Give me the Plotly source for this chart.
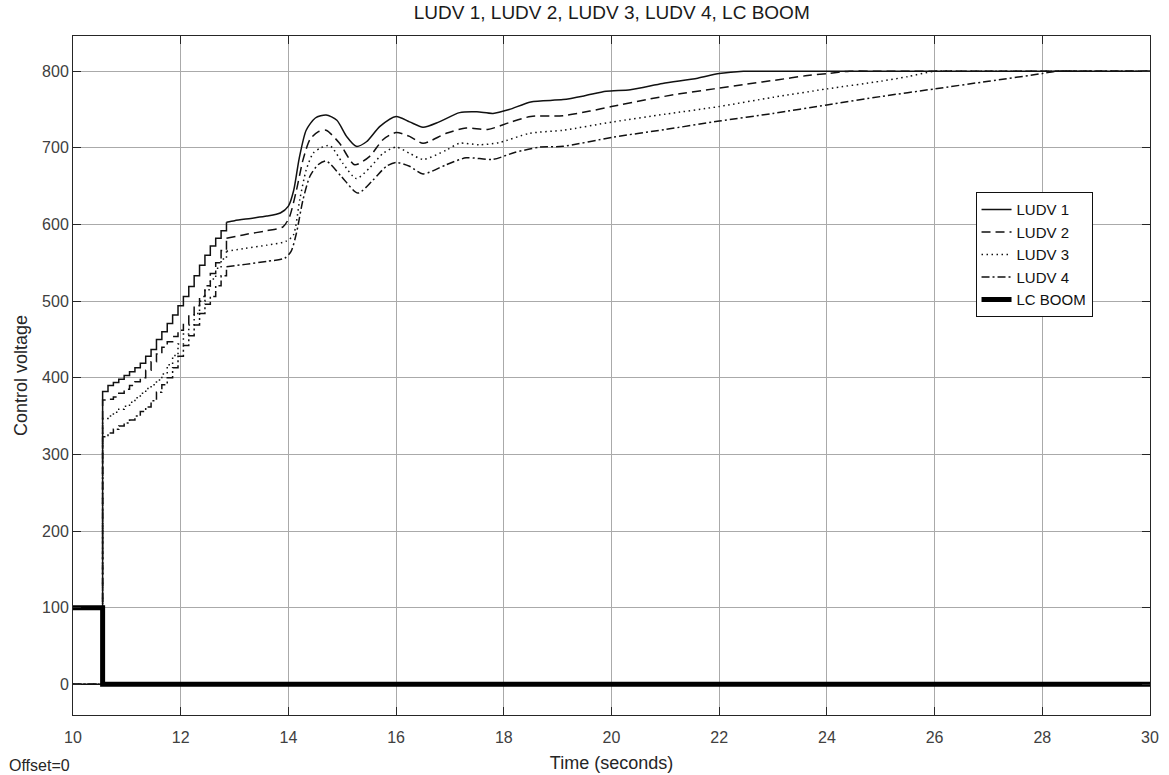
import plotly.graph_objects as go

# ---- data -------------------------------------------------------------
series_names = ["LUDV 1", "LUDV 2", "LUDV 3", "LUDV 4"]

# stepped start-up part of each valve signal (drawn with hv steps)
ludv1_step_t = [10.0, 10.55, 10.65, 10.75, 10.85, 10.95, 11.05, 11.15, 11.25, 11.35, 11.45, 11.55,
                11.65, 11.75, 11.85, 11.95, 12.05, 12.15, 12.25, 12.35, 12.45, 12.55, 12.65, 12.75, 12.85]
ludv1_step_v = [0, 382, 390, 394, 398, 403, 408, 413, 419, 428, 437, 450,
                460, 471, 482, 494, 506, 519, 533, 547, 560, 572, 582, 592, 603]

ludv2_step_t = ludv1_step_t
ludv2_step_v = [0, 371, 372, 375, 380, 385, 390, 395, 400, 410, 421, 431,
                440, 447, 454, 462, 471, 482, 494, 506, 520, 536, 550, 566, 582]

ludv3_step_t = ludv1_step_t
ludv3_step_v = [0, 347, 350, 355, 359, 363, 368, 374, 380, 386, 391, 397,
                405, 417, 429, 444, 457, 469, 484, 500, 515, 529, 543, 555, 565]

ludv4_step_t = ludv1_step_t
ludv4_step_v = [0, 323, 328, 333, 337, 341, 345, 350, 356, 362, 370, 381,
                391, 400, 413, 428, 442, 455, 469, 484, 496, 506, 520, 533, 545]

# smooth remainder of each signal
ludv1_t = [12.85, 13.0, 13.3, 13.6, 13.85, 14.0, 14.1, 14.2, 14.33, 14.5, 14.7, 14.9, 15.08, 15.26,
           15.45, 15.7, 16.0, 16.25, 16.5, 16.8, 17.18, 17.5, 17.8, 18.1, 18.5, 19.1, 19.5, 19.9,
           20.35, 20.95, 21.6, 22.0, 22.45, 23.0, 30.0]
ludv1_v = [603, 605, 608, 611, 615, 624, 645, 686, 723, 739, 743, 736, 715, 702,
           708, 728, 741, 734, 727, 734, 746, 747, 745, 750, 760, 763, 768, 774,
           776, 784, 791, 797, 800, 800, 800]

ludv2_t = [12.85, 13.2, 13.6, 13.9, 14.02, 14.15, 14.27, 14.4, 14.55, 14.7, 14.95, 15.23, 15.51,
           15.76, 16.0, 16.25, 16.5, 16.93, 17.3, 17.7, 18.1, 18.5, 19.1, 19.6, 20.0, 20.65, 21.3,
           21.9, 22.5, 23.1, 23.6, 24.0, 24.42, 25.0, 30.0]
ludv2_v = [582, 587, 592, 597, 610, 645, 684, 711, 721, 723, 706, 678, 689,
           711, 720, 715, 706, 719, 726, 724, 733, 741, 742, 748, 754, 763, 771,
           777, 783, 789, 794, 797, 800, 800, 800]

ludv3_t = [12.85, 13.2, 13.6, 13.95, 14.09, 14.21, 14.33, 14.46, 14.6, 14.77, 15.01, 15.26, 15.51,
           15.76, 16.0, 16.25, 16.5, 16.93, 17.18, 17.55, 17.92, 18.48, 19.1, 20.03, 21.0, 22.0,
           23.0, 24.0, 25.0, 25.5, 26.0, 26.5, 30.0]
ludv3_v = [565, 569, 573, 578, 586, 632, 671, 693, 700, 703, 680, 660, 674,
           693, 701, 693, 685, 697, 706, 704, 707, 719, 723, 734, 744, 754,
           766, 777, 787, 793, 800, 800, 800]

ludv4_t = [12.85, 13.2, 13.6, 13.93, 14.05, 14.15, 14.27, 14.4, 14.55, 14.7, 14.98, 15.29, 15.57,
           15.82, 16.0, 16.25, 16.5, 16.93, 17.3, 17.8, 18.2, 18.67, 19.1, 20.03, 21.0, 22.0,
           23.0, 24.0, 25.0, 26.0, 27.0, 28.0, 28.25, 28.8, 30.0]
ludv4_v = [545, 548, 552, 556, 565, 589, 632, 663, 678, 683, 663, 641, 658,
           676, 681, 676, 666, 678, 687, 685, 694, 701, 702, 714, 724, 735,
           745, 756, 767, 777, 787, 797, 800, 800, 800]

# boom control signal
boom_t = [10.0, 10.55, 30.0]
boom_v = [100, 0, 0]

x_ticks = [10, 12, 14, 16, 18, 20, 22, 24, 26, 28, 30]
y_ticks = [0, 100, 200, 300, 400, 500, 600, 700, 800]

# ---- styling ----------------------------------------------------------
FONT = "Liberation Sans, Arial, sans-serif"
dashes = ["solid", "9px,5px", "1.5px,3.5px", "8px,3px,2px,3px"]
line_col = "#111111"

step_data = [(ludv1_step_t, ludv1_step_v), (ludv2_step_t, ludv2_step_v),
             (ludv3_step_t, ludv3_step_v), (ludv4_step_t, ludv4_step_v)]
smooth_data = [(ludv1_t, ludv1_v), (ludv2_t, ludv2_v), (ludv3_t, ludv3_v), (ludv4_t, ludv4_v)]

fig = go.Figure()
for name, dash, (st, sv), (mt, mv) in zip(series_names, dashes, step_data, smooth_data):
    fig.add_trace(go.Scatter(x=st, y=sv, mode="lines", name=name, legendgroup=name,
                             line=dict(color=line_col, width=1.5, dash=dash, shape="hv")))
    fig.add_trace(go.Scatter(x=mt, y=mv, mode="lines", name=name, legendgroup=name, showlegend=False,
                             line=dict(color=line_col, width=1.5, dash=dash, shape="spline", smoothing=0.7)))

fig.add_trace(go.Scatter(x=boom_t, y=boom_v, mode="lines", name="LC BOOM",
                         line=dict(color="#000000", width=5, shape="hv")))

axis_common = dict(
    showgrid=True, gridcolor="#aaaaaa", gridwidth=1,
    showline=True, linecolor="#262626", linewidth=1, mirror="ticks",
    ticks="inside", ticklen=8, tickcolor="#262626",
    tickfont=dict(family=FONT, size=16, color="#404040"),
    zeroline=False, automargin=False,
)

fig.update_layout(
    width=1169, height=775,
    margin=dict(l=73, r=19, t=36, b=60),
    paper_bgcolor="white", plot_bgcolor="white",
    font=dict(family=FONT, color="#262626"),
    title=dict(text="LUDV 1, LUDV 2, LUDV 3, LUDV 4, LC BOOM", x=0.5233, xanchor="center",
               y=1 - 12 / 775, yanchor="middle", font=dict(family=FONT, size=19, color="#1a1a1a")),
    xaxis=dict(range=[10, 30], tickvals=x_ticks, ticklabelstandoff=8,
               title=dict(text="Time (seconds)", font=dict(family=FONT, size=18, color="#262626"),
                          standoff=11),
               **axis_common),
    yaxis=dict(range=[-40, 846], tickvals=y_ticks,
               title=dict(text="Control voltage", font=dict(family=FONT, size=18, color="#262626"),
                          standoff=9),
               **axis_common),
    legend=dict(x=0.838, y=0.770, xanchor="left", yanchor="top",
                bgcolor="white", bordercolor="#111111", borderwidth=1,
                font=dict(family=FONT, size=15, color="#111111"),
                tracegroupgap=0),
    showlegend=True,
    annotations=[dict(text="Offset=0", xref="paper", yref="paper", x=-66 / 1077, y=-50.5 / 679,
                      xanchor="left", yanchor="middle", showarrow=False,
                      font=dict(family=FONT, size=16, color="#262626"))],
)

fig.write_html("out.html")
